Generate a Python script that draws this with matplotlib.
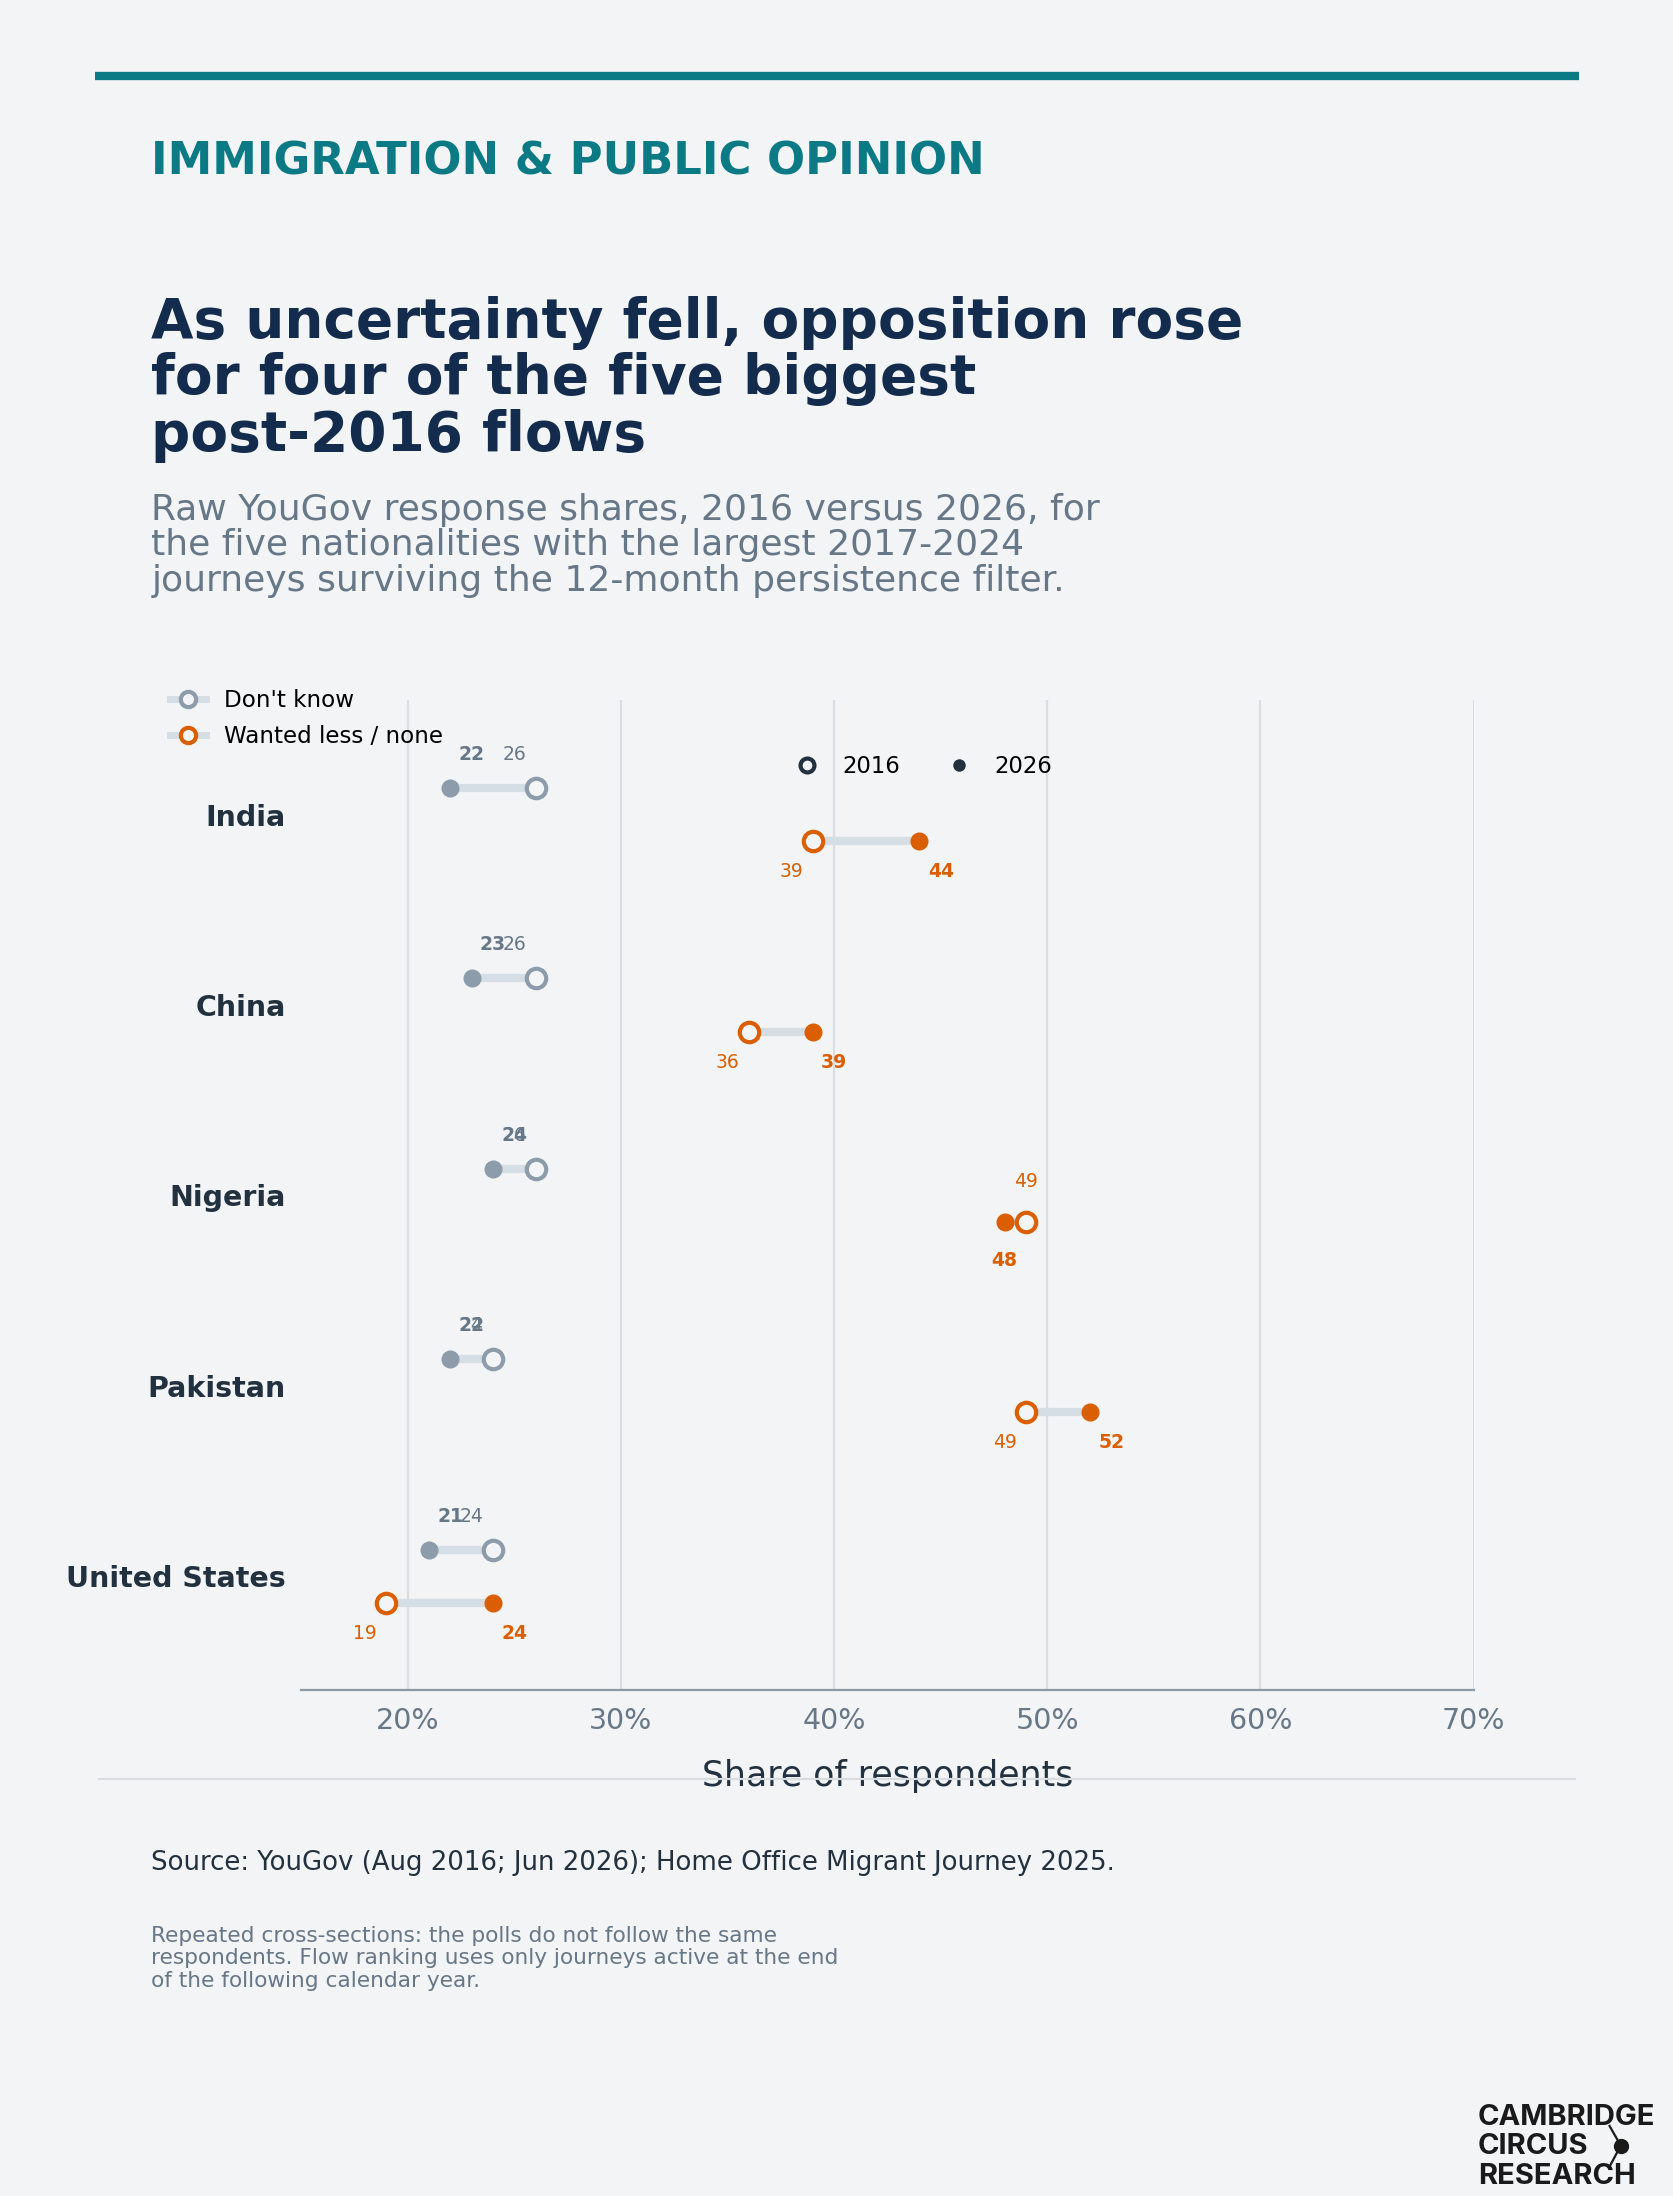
import matplotlib.pyplot as plt
import numpy as np
from matplotlib.lines import Line2D

# values (percent of respondents)
countries = ['India', 'China', 'Nigeria', 'Pakistan', 'United States']
dont_know_2016 = [26, 26, 26, 24, 24]
dont_know_2026 = [22, 23, 24, 22, 21]
wanted_less_2016 = [39, 36, 49, 49, 19]
wanted_less_2026 = [44, 39, 48, 52, 24]
x_ticks = [20, 30, 40, 50, 60, 70]

BG = '#f3f4f6'
TEAL = '#0b7a85'
NAVY = '#132b4c'
INK = '#22313f'
SLATE = '#667788'
GREY = '#8d9caa'
ORANGE = '#d95f02'
TRACK = '#d6dee5'

# layout was measured on a 1195 px wide copy of the reference
W, H = 1195.0, 1568.0


def fx(x):
    return x / W


def fy(y):
    return 1 - y / H


fig = plt.figure(figsize=(16.74, 21.96), dpi=100, facecolor=BG)
ax = fig.add_axes([fx(215), fy(1207), fx(1052) - fx(215), fy(500) - fy(1207)])
ax.set_facecolor(BG)

ypos = np.arange(len(countries))
off = 0.14


def draw_series(rows, v16s, v26s, color, text_color, above):
    for y, v16, v26 in zip(rows, v16s, v26s):
        ax.plot([v16, v26], [y, y], color=TRACK, lw=6, solid_capstyle='butt', zorder=2)
        ax.plot(v16, y, 'o', ms=14, mfc=BG, mec=color, mew=3, zorder=4)
        ax.plot(v26, y, 'o', ms=13, mfc=color, mec=color, mew=0, zorder=4)
        if abs(v26 - v16) <= 1:
            # too close to sit side by side: stack 2016 above, 2026 below
            ax.annotate(str(v16), (v16, y), xytext=(0, 29), textcoords='offset points',
                        ha='center', va='center', fontsize=13.5, color=text_color)
            ax.annotate(str(v26), (v26, y), xytext=(0, -28), textcoords='offset points',
                        ha='center', va='center', fontsize=13.5, color=text_color,
                        fontweight='bold')
            continue
        dy = 24 if above else -22
        ax.annotate(str(v16), (v16 - 1, y), xytext=(0, dy), textcoords='offset points',
                    ha='center', va='center', fontsize=13.5, color=text_color)
        ax.annotate(str(v26), (v26 + 1, y), xytext=(0, dy), textcoords='offset points',
                    ha='center', va='center', fontsize=13.5, color=text_color,
                    fontweight='bold')


draw_series(ypos - off, dont_know_2016, dont_know_2026, GREY, SLATE, True)
draw_series(ypos + off, wanted_less_2016, wanted_less_2026, ORANGE, ORANGE, False)

ax.set_xlim(15, 70)
ax.set_ylim(len(countries) - 0.4, -0.6)
ax.set_xticks(x_ticks, [f'{t}%' for t in x_ticks])
ax.set_yticks(ypos, countries)
ax.tick_params(axis='x', length=0, pad=12, labelsize=20.5, labelcolor=SLATE)
ax.tick_params(axis='y', length=0, pad=11, labelsize=20.5, labelcolor=INK)
for lab in ax.get_yticklabels():
    lab.set_fontweight('bold')
ax.set_xlabel('Share of respondents', fontsize=25, color=INK, labelpad=17)
ax.grid(axis='x', color='#d9dee3', lw=1.6)
ax.set_axisbelow(True)
for side in ['left', 'top', 'right']:
    ax.spines[side].set_visible(False)
ax.spines['bottom'].set_color('#8a99a6')
ax.spines['bottom'].set_linewidth(1.6)

# series legend (top left)
series_handles = [
    Line2D([0], [0], color=TRACK, lw=5, marker='o', ms=11, mfc=BG, mec=GREY, mew=3),
    Line2D([0], [0], color=TRACK, lw=5, marker='o', ms=11, mfc=BG, mec=ORANGE, mew=3),
]
fig.legend(series_handles, ["Don't know", 'Wanted less / none'], loc='upper left',
           bbox_to_anchor=(fx(121), fy(492)), frameon=False, fontsize=16.6,
           handlelength=1.6, handletextpad=0.75, labelspacing=0.58,
           borderpad=0, borderaxespad=0)

# year legend
year_handles = [
    Line2D([0], [0], lw=0, marker='o', ms=10, mfc=BG, mec=INK, mew=3),
    Line2D([0], [0], lw=0, marker='o', ms=9, mfc=INK, mec=INK, mew=0),
]
fig.legend(year_handles, ['2016', '2026'], loc='center left',
           bbox_to_anchor=(fx(568), fy(547)), frameon=False, fontsize=16.4, ncol=2,
           handlelength=1.0, handletextpad=1.05, columnspacing=2.1,
           borderpad=0, borderaxespad=0)

# header
fig.add_artist(Line2D([fx(68), fx(1127)], [fy(54), fy(54)], color=TEAL, lw=6,
                      solid_capstyle='butt'))
fig.text(fx(108), fy(116), 'IMMIGRATION & PUBLIC OPINION', fontsize=32.3,
         fontweight='bold', color=TEAL, va='center')
fig.text(fx(108), fy(211),
         'As uncertainty fell, opposition rose\nfor four of the five biggest\npost-2016 flows',
         fontsize=39.5, fontweight='bold', color=NAVY, va='top', linespacing=1.07)
fig.text(fx(108), fy(352),
         'Raw YouGov response shares, 2016 versus 2026, for\n'
         'the five nationalities with the largest 2017-2024\n'
         'journeys surviving the 12-month persistence filter.',
         fontsize=26, color=SLATE, va='top', linespacing=1.05)

# footer
fig.add_artist(Line2D([fx(71), fx(1124)], [fy(1270), fy(1270)], color='#d8dde2', lw=1.6,
                      zorder=10))
fig.text(fx(108), fy(1330),
         'Source: YouGov (Aug 2016; Jun 2026); Home Office Migrant Journey 2025.',
         fontsize=18.7, color=INK, va='center')
fig.text(fx(108), fy(1375),
         'Repeated cross-sections: the polls do not follow the same\n'
         'respondents. Flow ranking uses only journeys active at the end\n'
         'of the following calendar year.',
         fontsize=15.6, color=SLATE, va='top', linespacing=1.15)

# logo
LOGO = '#1a1a1a'
for txt, yy in [('CAMBRIDGE', 1512), ('CIRCUS', 1533), ('RESEARCH', 1554)]:
    fig.text(fx(1055), fy(yy), txt, fontsize=21, fontweight='bold', family='Inter',
             color=LOGO, va='center')
fig.add_artist(Line2D([fx(1149), fx(1157), fx(1149)], [fy(1518), fy(1532), fy(1547)],
                      color=LOGO, lw=1.6))
fig.add_artist(Line2D([fx(1157)], [fy(1532)], marker='o', ms=10, color=LOGO, lw=0))

fig.savefig('out.png', dpi=100, facecolor=BG)
